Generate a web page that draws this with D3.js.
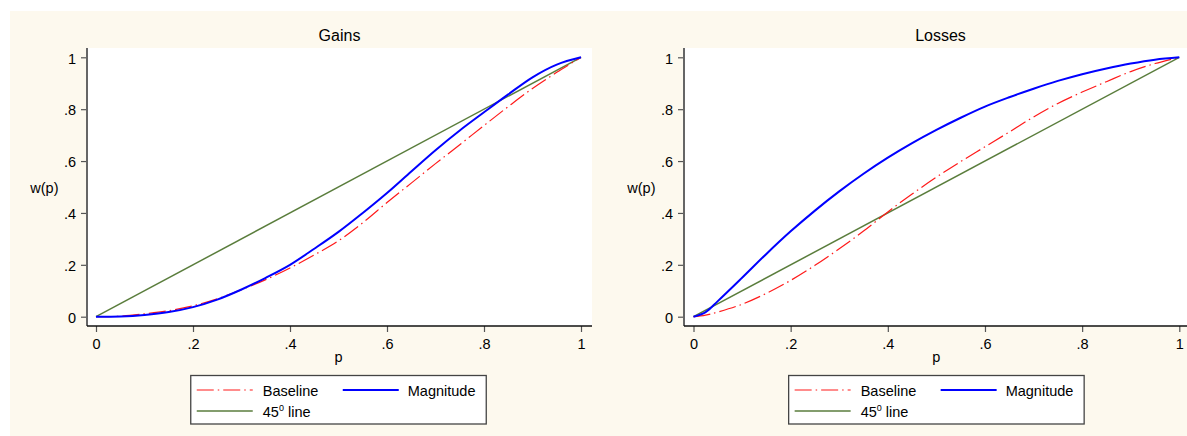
<!DOCTYPE html>
<html>
<head>
<meta charset="utf-8">
<script src="https://cdn.jsdelivr.net/npm/d3@7"></script>
<style>
  html, body { margin: 0; padding: 0; background: #ffffff; }
  svg { display: block; }
  text { font-family: "Liberation Sans", Arial, sans-serif; fill: #000; }
</style>
</head>
<body>
<svg id="chart" width="1187" height="436"></svg>
<script>
// ---------- data ----------
const pValues = [0, 0.025, 0.05, 0.1, 0.15, 0.2, 0.25, 0.3, 0.35, 0.4, 0.45, 0.5, 0.55, 0.6, 0.65, 0.7, 0.75, 0.8, 0.85, 0.9, 0.95, 1];
const gainsBaseline  = [0, 0.0005, 0.002, 0.011, 0.023, 0.042, 0.069, 0.104, 0.143, 0.188, 0.238, 0.293, 0.362, 0.44, 0.515, 0.59, 0.663, 0.737, 0.81, 0.88, 0.942, 1];
const gainsMagnitude = [0, 0.0002, 0.001, 0.007, 0.018, 0.037, 0.066, 0.105, 0.15, 0.2, 0.262, 0.327, 0.4, 0.477, 0.56, 0.642, 0.718, 0.788, 0.857, 0.923, 0.972, 1];
const lossesBaseline  = [0, 0.006, 0.018, 0.048, 0.09, 0.14, 0.198, 0.262, 0.33, 0.404, 0.473, 0.538, 0.598, 0.655, 0.712, 0.77, 0.822, 0.866, 0.906, 0.945, 0.976, 1];
const lossesMagnitude = [0, 0.018, 0.06, 0.15, 0.242, 0.329, 0.409, 0.483, 0.551, 0.613, 0.669, 0.72, 0.767, 0.81, 0.846, 0.879, 0.909, 0.935, 0.957, 0.976, 0.991, 1];
const diagonalP = [0, 1];
const diagonalW = [0, 1];
const panelTitles = ["Gains", "Losses"];
const tickValues = [0, 0.2, 0.4, 0.6, 0.8, 1];
const tickLabels = ["0", ".2", ".4", ".6", ".8", "1"];
const seriesNames = ["Baseline", "Magnitude", "45"];

// ---------- layout ----------
const svg = d3.select("#chart");
svg.append("rect").attr("x", 0).attr("y", 0).attr("width", 1187).attr("height", 436).attr("fill", "#ffffff");
svg.append("rect").attr("x", 10).attr("y", 11).attr("width", 1177).attr("height", 425).attr("fill", "#fdf9ee");

const panels = [
  { title: panelTitles[0], baseline: gainsBaseline, magnitude: gainsMagnitude,
    axisX: 87, plotRight: 592, x0: 96, x1: 581 },
  { title: panelTitles[1], baseline: lossesBaseline, magnitude: lossesMagnitude,
    axisX: 684, plotRight: 1197, x0: 693.5, x1: 1179.3 }
];
const plotTop = 48, axisY = 326, yZero = 316.7, yOne = 57.3;
const fmt = d => tickLabels[tickValues.indexOf(d)];

const styles = {
  baseline: { stroke: "#ff1a1a", width: 1.2, dash: "17,4,1.5,4" },
  magnitude: { stroke: "#0000ff", width: 2, dash: null },
  diagonal: { stroke: "#5a7d3c", width: 1.5, dash: null }
};

panels.forEach(pn => {
  const g = svg.append("g");
  const x = d3.scaleLinear().domain([0, 1]).range([pn.x0, pn.x1]);
  const y = d3.scaleLinear().domain([0, 1]).range([yZero, yOne]);

  // plot region
  g.append("rect").attr("x", pn.axisX).attr("y", plotTop)
    .attr("width", pn.plotRight - pn.axisX).attr("height", axisY - plotTop)
    .attr("fill", "#ffffff");

  // title
  g.append("text").attr("x", (pn.axisX + pn.plotRight) / 2).attr("y", 41)
    .attr("text-anchor", "middle").attr("font-size", "16px").text(pn.title);

  // y axis
  const ya = g.append("g").attr("transform", `translate(${pn.axisX},0)`)
    .call(d3.axisLeft(y).tickValues(tickValues).tickFormat(fmt).tickSize(6).tickPadding(5));
  ya.select(".domain").remove();
  ya.selectAll(".tick line").attr("stroke", "#555").attr("stroke-width", 1.2);
  ya.selectAll(".tick text").attr("font-size", "14.5px").attr("font-family", "Liberation Sans, Arial, sans-serif")
    .attr("fill", "#000").attr("dy", "0.4em");
  g.append("line").attr("x1", pn.axisX).attr("x2", pn.axisX).attr("y1", plotTop).attr("y2", axisY)
    .attr("stroke", "#666").attr("stroke-width", 2);

  // x axis
  const xa = g.append("g").attr("transform", `translate(0,${axisY})`)
    .call(d3.axisBottom(x).tickValues(tickValues).tickFormat(fmt).tickSize(6).tickPadding(7));
  xa.select(".domain").remove();
  xa.selectAll(".tick line").attr("stroke", "#555").attr("stroke-width", 1.2);
  xa.selectAll(".tick text").attr("font-size", "14.5px").attr("font-family", "Liberation Sans, Arial, sans-serif")
    .attr("fill", "#000");
  g.append("line").attr("x1", pn.axisX).attr("x2", pn.plotRight).attr("y1", axisY).attr("y2", axisY)
    .attr("stroke", "#111").attr("stroke-width", 1.6);

  // axis titles
  g.append("text").attr("x", pn.axisX - 28.5).attr("y", 193).attr("text-anchor", "end")
    .attr("font-size", "14.5px").text("w(p)");
  g.append("text").attr("x", x(0.5)).attr("y", 362).attr("text-anchor", "middle")
    .attr("font-size", "14.5px").text("p");

  // lines
  const line = d3.line().x(d => x(d[0])).y(d => y(d[1])).curve(d3.curveCatmullRom.alpha(0.5));
  const draw = (ps, ws, st) => {
    g.append("path").datum(ps.map((p, i) => [p, ws[i]])).attr("d", line)
      .attr("fill", "none").attr("stroke", st.stroke).attr("stroke-width", st.width)
      .attr("stroke-dasharray", st.dash).attr("stroke-linejoin", "round");
  };
  draw(diagonalP, diagonalW, styles.diagonal);
  draw(pValues, pn.baseline, styles.baseline);
  draw(pValues, pn.magnitude, styles.magnitude);

  // legend
  const lw = 295.5, lh = 48.5;
  const lx = x(0.5) - lw / 2, ly = 375.5;
  const lg = g.append("g").attr("transform", `translate(${lx},${ly})`);
  lg.append("rect").attr("x", 0).attr("y", 0).attr("width", lw).attr("height", lh)
    .attr("fill", "#ffffff").attr("stroke", "#444").attr("stroke-width", 1.3);
  const entries = [
    { st: styles.baseline, lx: 6, ly: 14.5, tx: 72, label: seriesNames[0] },
    { st: styles.magnitude, lx: 152, ly: 14.5, tx: 217, label: seriesNames[1] },
    { st: styles.diagonal, lx: 6, ly: 35.5, tx: 72, label: seriesNames[2] }
  ];
  entries.forEach((e, i) => {
    lg.append("line").attr("x1", e.lx).attr("x2", e.lx + 56).attr("y1", e.ly).attr("y2", e.ly)
      .attr("stroke", e.st.stroke).attr("stroke-width", e.st.width).attr("stroke-dasharray", e.st.dash);
    const t = lg.append("text").attr("x", e.tx).attr("y", e.ly + 5.5).attr("font-size", "14.5px");
    if (i === 2) {
      t.append("tspan").text(e.label);
      t.append("tspan").attr("font-size", "9px").attr("dy", "-6").text("0");
      t.append("tspan").attr("dy", "6").text(" line");
    } else {
      t.text(e.label);
    }
  });
});
</script>
</body>
</html>
